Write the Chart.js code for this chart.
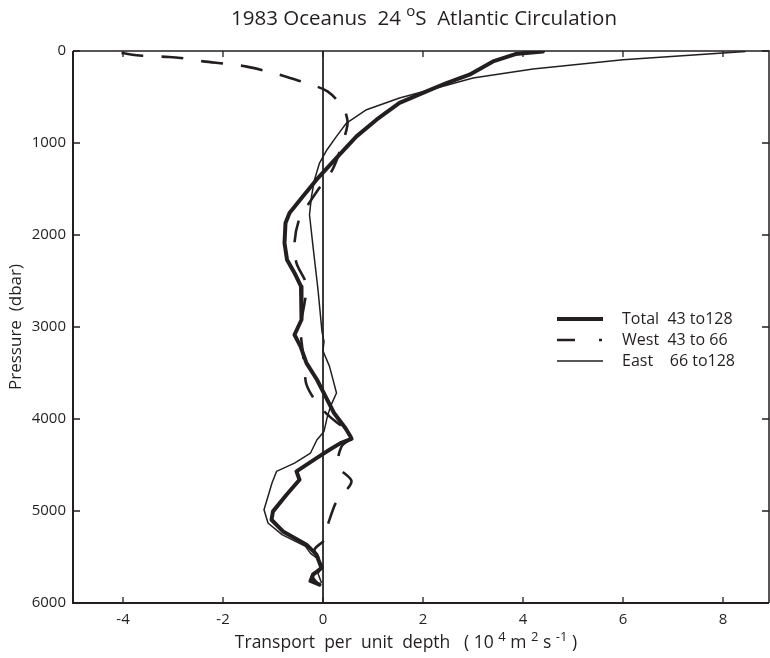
<!DOCTYPE html>
<html>
<head>
<meta charset="utf-8">
<script src="https://cdn.jsdelivr.net/npm/chart.js@4"></script>
<style>
html,body{margin:0;padding:0;background:#fff;}
#wrap{width:770px;height:658px;position:relative;}
</style>
</head>
<body>
<div id="wrap"><canvas id="c"></canvas></div>
<script>
// ---- data ----
const xTickValues = [-4, -2, 0, 2, 4, 6, 8];
const yTickValues = [0, 1000, 2000, 3000, 4000, 5000, 6000];

const totalPressure = [5, 33, 113, 258, 348, 439, 563, 747, 928, 1127, 1399, 1580, 1761, 1870, 2087, 2268, 2413, 2559, 2921, 3084, 3211, 3392, 3573, 3754, 3935, 4100, 4190, 4215, 4262, 4335, 4425, 4570, 4660, 4823, 5004, 5095, 5222, 5366, 5475, 5620, 5692, 5760, 5801];
const totalTransport = [4.4, 3.85, 3.4, 2.93, 2.47, 2.07, 1.53, 1.07, 0.67, 0.33, -0.13, -0.4, -0.67, -0.75, -0.77, -0.72, -0.57, -0.44, -0.43, -0.57, -0.45, -0.33, -0.12, 0.05, 0.22, 0.45, 0.55, 0.57, 0.35, 0.13, -0.13, -0.53, -0.47, -0.73, -1.0, -1.03, -0.8, -0.33, -0.13, -0.03, -0.2, -0.25, -0.07];

const westPressure = [22, 51, 65, 95, 113, 138, 167, 222, 283, 355, 439, 620, 760, 855, 1037, 1290, 1453, 1671, 1834, 2087, 2305, 2541, 2740, 3000, 3200, 3428, 3627, 3845, 3972, 4190, 4298, 4516, 4678, 4896, 5094, 5200, 5312, 5420, 5520, 5620, 5700, 5790];
const westTransport = [-4.03, -3.62, -3.08, -2.54, -2.39, -1.95, -1.55, -1.11, -0.72, -0.3, 0.09, 0.41, 0.49, 0.47, 0.37, 0.19, -0.03, -0.3, -0.48, -0.57, -0.53, -0.33, -0.37, -0.45, -0.42, -0.37, -0.33, -0.1, 0.13, 0.57, 0.37, 0.3, 0.57, 0.27, 0.13, 0.07, 0.03, -0.17, -0.08, -0.05, -0.22, -0.1];

const eastPressure = [5, 95, 196, 294, 413, 511, 638, 783, 928, 1073, 1218, 1399, 1580, 1780, 2124, 2595, 3050, 3157, 3260, 3428, 3718, 3863, 3990, 4135, 4226, 4370, 4479, 4570, 4696, 4986, 5130, 5257, 5384, 5460, 5520, 5602, 5680, 5783];
const eastTransport = [8.45, 6.0, 4.2, 3.0, 2.2, 1.53, 0.87, 0.47, 0.27, 0.08, -0.07, -0.17, -0.23, -0.27, -0.2, -0.1, -0.02, 0.02, 0.0, 0.13, 0.27, 0.15, 0.08, 0.02, -0.12, -0.25, -0.57, -0.93, -1.02, -1.18, -1.1, -0.82, -0.35, -0.25, -0.1, 0.0, -0.1, -0.03];

const zeroPressure = [0, 6000];
const zeroTransport = [0, 0];

const legendLabels = ['Total  43 to128', 'West  43 to 66', 'East    66 to128'];

// ---- build ----
const INK = '#231f20';
const FONT = '"Open Sans", "Liberation Sans", sans-serif';
function pts(xs, ys){ return xs.map((x,i)=>({x:x, y:ys[i]})); }

const datasets = [
  {label: legendLabels[0], data: pts(totalTransport, totalPressure), borderColor: INK, borderWidth: 4, showLine: true, pointRadius: 0, fill:false, tension: 0, borderJoinStyle:'round', borderCapStyle:'round'},
  {label: legendLabels[1], data: pts(westTransport, westPressure), borderColor: INK, borderWidth: 2.6, borderDash:[22,18], showLine: true, pointRadius: 0, fill:false, tension: 0.3, borderJoinStyle:'round'},
  {label: legendLabels[2], data: pts(eastTransport, eastPressure), borderColor: INK, borderWidth: 1.5, showLine: true, pointRadius: 0, fill:false, tension: 0, borderJoinStyle:'round'},
  {label: 'zero', data: pts(zeroTransport, zeroPressure), borderColor: INK, borderWidth: 1, showLine: true, pointRadius: 0, fill:false, tension: 0}
];

function drawRich(ctx, parts, x, baseline, size, align){
  ctx.save();
  let w = 0;
  const widths = parts.map(p=>{
    ctx.font = (p.sup ? Math.round(size*0.72) : size) + 'px ' + FONT;
    const m = ctx.measureText(p.t).width; w += m; return m;
  });
  let cx = align === 'center' ? x - w/2 : x;
  ctx.fillStyle = INK;
  ctx.textBaseline = 'alphabetic';
  ctx.textAlign = 'left';
  parts.forEach((p,i)=>{
    ctx.font = (p.sup ? Math.round(size*0.72) : size) + 'px ' + FONT;
    ctx.fillText(p.t, cx, p.sup ? baseline - size*0.42 : baseline);
    cx += widths[i];
  });
  ctx.restore();
}

const decorPlugin = {
  id: 'decor',
  afterDraw(chart){
    const ctx = chart.ctx, a = chart.chartArea;
    const xs = chart.scales.x, ys = chart.scales.y;
    ctx.save();
    ctx.strokeStyle = INK;
    // frame
    ctx.lineWidth = 2;
    ctx.beginPath();
    ctx.moveTo(a.left, a.top); ctx.lineTo(a.left, a.bottom); ctx.lineTo(a.right, a.bottom);
    ctx.stroke();
    ctx.lineWidth = 1.5;
    ctx.beginPath();
    ctx.moveTo(a.left, a.top); ctx.lineTo(a.right, a.top); ctx.lineTo(a.right, a.bottom);
    ctx.stroke();
    // inward ticks
    ctx.lineWidth = 1.3;
    ctx.beginPath();
    xTickValues.forEach(v=>{
      const px = xs.getPixelForValue(v);
      ctx.moveTo(px, a.bottom); ctx.lineTo(px, a.bottom-6);
      ctx.moveTo(px, a.top); ctx.lineTo(px, a.top+6);
    });
    yTickValues.forEach(v=>{
      const py = ys.getPixelForValue(v);
      ctx.moveTo(a.left, py); ctx.lineTo(a.left+7, py);
      ctx.moveTo(a.right, py); ctx.lineTo(a.right-7, py);
    });
    ctx.stroke();
    ctx.restore();

    // legend
    const lx0 = 557, lx1 = 603, tx = 622, rows = [319, 340, 361];
    ctx.save();
    ctx.strokeStyle = INK;
    ctx.lineCap = 'butt';
    [0,1,2].forEach(i=>{
      const ds = chart.data.datasets[i];
      ctx.lineWidth = ds.borderWidth;
      ctx.beginPath();
      if (i === 1){
        ctx.moveTo(lx0, rows[i]); ctx.lineTo(lx0+18, rows[i]);
        ctx.moveTo(lx1-4, rows[i]); ctx.lineTo(lx1-1, rows[i]);
      } else {
        ctx.moveTo(lx0, rows[i]); ctx.lineTo(lx1, rows[i]);
      }
      ctx.stroke();
      ctx.fillStyle = INK;
      ctx.font = '16px ' + FONT;
      ctx.textBaseline = 'middle';
      ctx.fillText(ds.label, tx, rows[i]);
    });
    ctx.restore();

    // titles
    drawRich(ctx, [{t:'1983 Oceanus  24 '},{t:'o',sup:true},{t:'S  Atlantic Circulation'}], 424, 25, 20.5, 'center');
    drawRich(ctx, [{t:'Transport  per  unit  depth   ( 10 '},{t:'4',sup:true},{t:' m '},{t:'2',sup:true},{t:' s '},{t:'-1',sup:true},{t:' )'}], 406, 648, 17.5, 'center');
    ctx.save();
    ctx.translate(16, 327);
    ctx.rotate(-Math.PI/2);
    ctx.fillStyle = INK;
    ctx.font = '17px ' + FONT;
    ctx.textAlign = 'center';
    ctx.textBaseline = 'middle';
    ctx.fillText('Pressure  (dbar)', 0, 0);
    ctx.restore();
  }
};

new Chart(document.getElementById('c'), {
  type: 'scatter',
  data: { datasets },
  options: {
    responsive: true,
    maintainAspectRatio: false,
    animation: false,
    devicePixelRatio: 1,
    layout: { padding: { top: 51, right: 1, left: 0, bottom: 0 } },
    plugins: { legend: {display:false}, title:{display:false}, tooltip:{enabled:false} },
    scales: {
      x: {
        type: 'linear', min: -5, max: 8.92,
        grid: { display: false, drawTicks: false },
        border: { display: false },
        ticks: { color: INK, font: { family: FONT, size: 15 }, padding: 8, callback: v => String(v) },
        afterBuildTicks: s => { s.ticks = xTickValues.map(v=>({value:v})); },
        afterFit: s => { s.height = 55; }
      },
      y: {
        type: 'linear', min: 0, max: 6000, reverse: true,
        grid: { display: false, drawTicks: false },
        border: { display: false },
        ticks: { color: INK, font: { family: FONT, size: 15 }, padding: 7, callback: v => String(v) },
        afterBuildTicks: s => { s.ticks = yTickValues.map(v=>({value:v})); },
        afterFit: s => { s.width = 73; }
      }
    }
  },
  plugins: [decorPlugin]
});
</script>
</body>
</html>
